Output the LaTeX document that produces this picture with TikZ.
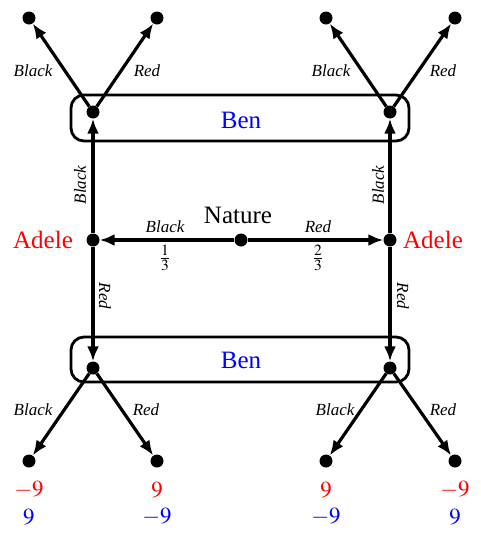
\documentclass[tikz,border=0pt]{standalone}
\usepackage{mathptmx}
\usepackage[no-math]{fontspec}
\setmainfont{Liberation Serif}
\usetikzlibrary{arrows.meta}
\tikzset{
  dot/.style={circle,fill,inner sep=0pt,minimum size=13pt},
  move/.style={line width=3.2pt,-{Latex[length=15pt,width=12pt]}},
  act/.style={font=\fontsize{17}{20}\selectfont\itshape,inner sep=0pt},
  prob/.style={font=\fontsize{21}{24}\selectfont,inner sep=0pt},
  player/.style={font=\fontsize{25}{30}\selectfont,inner sep=0pt},
  pay/.style={font=\fontsize{23}{27}\selectfont,inner sep=0pt},
  infoset/.style={draw,line width=2.8pt,rounded corners=13pt}
}
\begin{document}
\begin{tikzpicture}[x=1pt,y=-1pt]
  \useasboundingbox (0,0) rectangle (481,536);

  % information sets of Ben
  \draw[infoset] (71,95) rectangle (409,141);
  \draw[infoset] (71,337) rectangle (409,382);
  \node[player,text=blue] (benu) at (241,120) {Ben};
  \node[player,text=blue] (bend) at (241,360) {Ben};

  \node[dot] (nat) at (241,240) {};
  \node[dot] (adl) at (93,240) {};
  \node[dot] (adr) at (390,240) {};
  \node[dot] (bul) at (93,112) {};
  \node[dot] (bur) at (390,112) {};
  \node[dot] (bdl) at (93,368) {};
  \node[dot] (bdr) at (390,368) {};

  \node[dot] (t1) at (29,18) {};
  \node[dot] (t2) at (157,18) {};
  \node[dot] (t3) at (326,18) {};
  \node[dot] (t4) at (455,18) {};
  \node[dot] (e1) at (29,461) {};
  \node[dot] (e2) at (157,461) {};
  \node[dot] (e3) at (326,461) {};
  \node[dot] (e4) at (455,461) {};

  \node[player] (natlbl) at (238,215) {Nature};
  \node[player,text=red] (adllbl) at (43,240) {Adele};
  \node[player,text=red] (adrlbl) at (433,240) {Adele};

  % moves
  \draw[move] (nat) -- (adl);
  \draw[move] (nat) -- (adr);
  \draw[move] (adl) -- (bul);
  \draw[move] (adl) -- (bdl);
  \draw[move] (adr) -- (bur);
  \draw[move] (adr) -- (bdr);
  \draw[move] (bul) -- (t1);
  \draw[move] (bul) -- (t2);
  \draw[move] (bur) -- (t3);
  \draw[move] (bur) -- (t4);
  \draw[move] (bdl) -- (e1);
  \draw[move] (bdl) -- (e2);
  \draw[move] (bdr) -- (e3);
  \draw[move] (bdr) -- (e4);

  % action labels
  \node[act] at (165,227) {Black};
  \node[act] at (318,227) {Red};
  \node[prob] at (165,258) {$\frac{1}{3}$};
  \node[prob] at (318,258) {$\frac{2}{3}$};
  \node[act,rotate=90] at (80,185) {Black};
  \node[act,rotate=-90] at (105,296) {Red};
  \node[act,rotate=90] at (378,185) {Black};
  \node[act,rotate=-90] at (403,296) {Red};
  \node[act] at (33,71) {Black};
  \node[act] at (147,71) {Red};
  \node[act] at (331,71) {Black};
  \node[act] at (443,71) {Red};
  \node[act] at (33,410) {Black};
  \node[act] at (146,410) {Red};
  \node[act] at (335,410) {Black};
  \node[act] at (443,410) {Red};

  % payoffs
  \node[pay,text=red] at (29,490) {$-9$};
  \node[pay,text=blue] at (29,517) {$9$};
  \node[pay,text=red] at (157,490) {$9$};
  \node[pay,text=blue] at (157,517) {$-9$};
  \node[pay,text=red] at (326,490) {$9$};
  \node[pay,text=blue] at (326,517) {$-9$};
  \node[pay,text=red] at (455,490) {$-9$};
  \node[pay,text=blue] at (455,517) {$9$};
\end{tikzpicture}
\end{document}
